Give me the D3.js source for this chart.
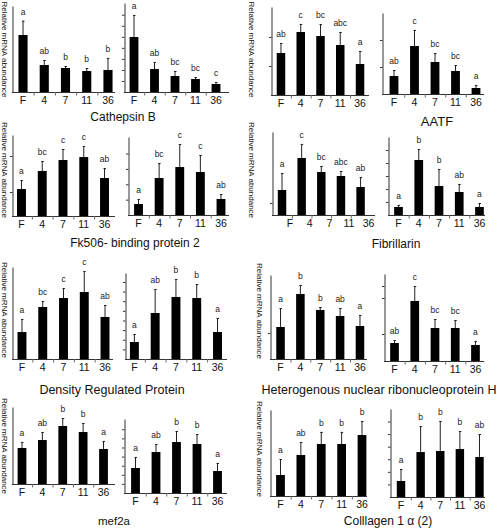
<!DOCTYPE html>
<html>
<head>
<meta charset="utf-8">
<script src="https://cdn.jsdelivr.net/npm/d3@7"></script>
<style>
  html, body { margin: 0; padding: 0; background: #fff; }
  svg { display: block; font-family: "Liberation Sans", Arial, sans-serif; }
</style>
</head>
<body>
<svg id="chart" width="497" height="530"></svg>
<script>
// ---------- DATA (relative mRNA abundance, % of each panel's axis height) ----------
const categories = ["F", "4", "7", "11", "36"];

const cathepsinB_left      = [66.3, 31.4, 27.9, 24.4, 25.6];
const cathepsinB_left_err  = [16.6, 5.8, 2.3, 3.5, 14.0];
const cathepsinB_left_sig  = ["a", "ab", "b", "b", "b"];
const cathepsinB_right     = [61.8, 25.8, 18.0, 14.6, 9.0];
const cathepsinB_right_err = [24.7, 7.9, 5.6, 2.2, 2.2];
const cathepsinB_right_sig = ["a", "ab", "bc", "bc", "c"];

const aatf_left      = [47.7, 71.6, 67.0, 56.8, 35.2];
const aatf_left_err  = [11.4, 9.1, 13.6, 14.8, 14.8];
const aatf_left_sig  = ["ab", "c", "bc", "abc", "a"];
const aatf_right     = [22.2, 59.3, 39.5, 28.4, 7.4];
const aatf_right_err = [7.4, 19.8, 11.1, 7.4, 3.7];
const aatf_right_sig = ["ab", "c", "bc", "bc", "a"];

const fk506_left      = [33.3, 55.6, 69.1, 72.8, 46.9];
const fk506_left_err  = [11.1, 12.3, 13.6, 13.6, 12.3];
const fk506_left_sig  = ["a", "bc", "c", "c", "ab"];
const fk506_right     = [14.1, 47.4, 61.5, 55.1, 20.5];
const fk506_right_err = [6.4, 19.2, 29.5, 21.8, 6.4];
const fk506_right_sig = ["a", "bc", "c", "c", "ab"];

const fibrillarin_left      = [30.1, 68.7, 51.8, 47.0, 33.7];
const fibrillarin_left_err  = [20.5, 16.9, 7.2, 6.0, 12.0];
const fibrillarin_left_sig  = ["a", "c", "bc", "abc", "ab"];
const fibrillarin_right     = [10.3, 70.5, 37.2, 29.5, 10.3];
const fibrillarin_right_err = [2.6, 14.1, 21.8, 10.3, 5.1];
const fibrillarin_right_sig = ["a", "b", "b", "ab", "a"];

const densityReg_left      = [29.3, 56.5, 66.3, 72.8, 45.7];
const densityReg_left_err  = [14.1, 6.5, 10.9, 22.8, 13.0];
const densityReg_left_sig  = ["a", "bc", "c", "c", "ab"];
const densityReg_right     = [19.8, 53.5, 72.1, 70.9, 31.4];
const densityReg_right_err = [9.3, 27.9, 20.9, 16.3, 16.3];
const densityReg_right_sig = ["a", "ab", "b", "b", "a"];

const hnrnpH_left      = [38.1, 77.4, 58.3, 51.2, 39.3];
const hnrnpH_left_err  = [22.6, 10.7, 3.6, 9.5, 13.1];
const hnrnpH_left_sig  = ["a", "b", "b", "ab", "a"];
const hnrnpH_right     = [20.7, 69.0, 37.9, 37.9, 18.4];
const hnrnpH_right_err = [3.4, 17.2, 10.3, 9.2, 4.6];
const hnrnpH_right_sig = ["ab", "c", "bc", "bc", "a"];

const mef2a_left      = [46.8, 57.1, 75.3, 67.5, 45.5];
const mef2a_left_err  = [7.8, 10.4, 10.4, 11.7, 10.4];
const mef2a_left_sig  = ["a", "ab", "b", "b", "a"];
const mef2a_right     = [33.8, 55.4, 68.9, 66.2, 29.7];
const mef2a_right_err = [14.9, 10.8, 14.9, 13.5, 10.8];
const mef2a_right_sig = ["a", "ab", "b", "b", "a"];

const collagen_left      = [24.4, 47.7, 60.5, 60.5, 70.9];
const collagen_left_err  = [18.6, 15.1, 14.0, 14.0, 16.3];
const collagen_left_sig  = ["a", "ab", "b", "b", "b"];
const collagen_right     = [18.2, 51.1, 52.3, 54.5, 45.5];
const collagen_right_err = [13.6, 29.5, 34.1, 20.5, 26.1];
const collagen_right_sig = ["a", "b", "b", "b", "ab"];

// y-axis minor tick values (same % units)
const ticks_none   = [];
const ticks_cathB_R = [12.4, 24.8, 37.2, 49.6, 62.0, 74.4, 86.8];
const ticks_aatf_L  = [33, 66];
const ticks_aatf_R  = [33.3, 66.7];
const ticks_fk_L    = [29.6, 74.1];
const ticks_fk_R    = [19.7, 39.4, 59.1, 78.8];
const ticks_fib_L   = [14.5];
const ticks_fib_R   = [16.7, 33.3, 50, 66.7, 83.3];
const ticks_drp_R   = [11.2, 22.4, 33.6, 44.8, 56, 67.2, 78.4, 89.6];
const ticks_het_L   = [31];
const ticks_het_R   = [31, 72.4, 86.2];
const ticks_mef_R   = [12.3, 24.6, 36.9, 49.2, 61.5, 73.8, 86.1];
const ticks_col_R   = [14.3, 28.6, 42.9, 57.2, 71.5, 85.8];

const yLabel = "Relative mRNA abundance";

// ---------- LAYOUT ----------
// frame: axisX, band start, band end, baseline end, yTop, yBase
const subpanels = [
  { v: cathepsinB_left,  e: cathepsinB_left_err,  s: cathepsinB_left_sig,  t: ticks_none,    f: [12, 12.4, 118.6, 115, 6, 92] },
  { v: cathepsinB_right, e: cathepsinB_right_err, s: cathepsinB_right_sig, t: ticks_cathB_R, f: [124, 123.75, 226.25, 229, 3, 92] },
  { v: aatf_left,        e: aatf_left_err,        s: aatf_left_sig,        t: ticks_aatf_L,  f: [271, 271.1, 369.9, 369, 7, 95] },
  { v: aatf_right,       e: aatf_right_err,       s: aatf_right_sig,       t: ticks_aatf_R,  f: [382, 383.75, 486.25, 484, 13, 94] },
  { v: fk506_left,       e: fk506_left_err,       s: fk506_left_sig,       t: ticks_fk_L,    f: [12, 11.1, 114.9, 115, 135, 216] },
  { v: fk506_right,      e: fk506_right_err,      s: fk506_right_sig,      t: ticks_fk_R,    f: [128, 128.2, 231.3, 229, 137, 215] },
  { v: fibrillarin_left, e: fibrillarin_left_err, s: fibrillarin_left_sig, t: ticks_fib_L,   f: [272, 272.2, 370.4, 375, 132, 215], shift: 8 },
  { v: fibrillarin_right,e: fibrillarin_right_err,s: fibrillarin_right_sig,t: ticks_fib_R,   f: [388, 388.4, 489.6, 485, 137, 215] },
  { v: densityReg_left,  e: densityReg_left_err,  s: densityReg_left_sig,  t: ticks_none,    f: [12, 11.6, 115.4, 113, 267, 359] },
  { v: densityReg_right, e: densityReg_right_err, s: densityReg_right_sig, t: ticks_drp_R,   f: [125, 124, 227.9, 227, 273, 359] },
  { v: hnrnpH_left,      e: hnrnpH_left_err,      s: hnrnpH_left_sig,      t: ticks_het_L,   f: [270, 270.6, 369.9, 367, 275, 359] },
  { v: hnrnpH_right,     e: hnrnpH_right_err,     s: hnrnpH_right_sig,     t: ticks_het_R,   f: [384, 384.4, 485.6, 484, 274, 361] },
  { v: mef2a_left,       e: mef2a_left_err,       s: mef2a_left_sig,       t: ticks_none,    f: [12, 11.8, 113.7, 115, 407, 484] },
  { v: mef2a_right,      e: mef2a_right_err,      s: mef2a_right_sig,      t: ticks_mef_R,   f: [124, 125.25, 227.75, 227, 419, 493] },
  { v: collagen_left,    e: collagen_left_err,    s: collagen_left_sig,    t: ticks_none,    f: [270, 270.3, 372.2, 367, 410, 496] },
  { v: collagen_right,   e: collagen_right_err,   s: collagen_right_sig,   t: ticks_col_R,   f: [390, 391.2, 489.3, 485, 409, 497] }
];

const titles = [
  { text: "Cathepsin B", x: 123, y: 121, size: 12 },
  { text: "AATF", x: 437, y: 126, size: 13 },
  { text: "Fk506- binding protein 2", x: 135, y: 247, size: 12 },
  { text: "Fibrillarin", x: 396, y: 248, size: 12 },
  { text: "Density Regulated Protein", x: 112, y: 394, size: 12.5 },
  { text: "Heterogenous nuclear ribonucleoprotein H", x: 379, y: 394, size: 12.5 },
  { text: "mef2a", x: 114, y: 525, size: 11.5 },
  { text: "Colllagen 1 \u03B1 (2)", x: 388, y: 525, size: 12 }
];

const yLabels = [
  { x: 1.5, y: 49.5 }, { x: 248.5, y: 49.5 },
  { x: 1.5, y: 170 }, { x: 248.5, y: 170 },
  { x: 1.5, y: 310 }, { x: 257, y: 311 },
  { x: 1.5, y: 446 }, { x: 257, y: 449 }
];

// ---------- DRAW ----------
const svg = d3.select("#chart");
const ink = "#111";
const axisColor = "#333";

subpanels.forEach(p => {
  const [ax, b0, b1, bEnd, yTop, yBase] = p.f;
  const pad = 0.57;
  const x = d3.scaleBand().domain(categories).range([b0, b1])
    .paddingInner(pad).paddingOuter(pad / 2);
  const y = d3.scaleLinear().domain([0, 100]).range([yBase, yTop]);
  const g = svg.append("g");
  const rows = categories.map((c, i) => ({ c, v: p.v[i], e: p.e[i], s: p.s[i] }));

  // bars
  g.selectAll("rect.bar").data(rows).join("rect")
    .attr("class", "bar")
    .attr("x", d => x(d.c))
    .attr("width", x.bandwidth())
    .attr("y", d => y(d.v))
    .attr("height", d => y(0) - y(d.v))
    .attr("fill", "#000");

  // error bars (upper only)
  const cx = d => x(d.c) + x.bandwidth() / 2;
  g.selectAll("line.err").data(rows).join("line")
    .attr("class", "err")
    .attr("x1", cx).attr("x2", cx)
    .attr("y1", d => y(d.v)).attr("y2", d => y(d.v + d.e))
    .attr("stroke", "#222").attr("stroke-width", 1);
  g.selectAll("line.cap").data(rows).join("line")
    .attr("class", "cap")
    .attr("x1", d => cx(d) - 1).attr("x2", d => cx(d) + 1.5)
    .attr("y1", d => y(d.v + d.e) + 0.5).attr("y2", d => y(d.v + d.e) + 0.5)
    .attr("stroke", "#222").attr("stroke-width", 1);

  // significance letters
  g.selectAll("text.sig").data(rows).join("text")
    .attr("class", "sig")
    .attr("x", cx)
    .attr("y", d => y(d.v + d.e) - 6)
    .attr("text-anchor", "middle")
    .attr("font-size", 8.5)
    .attr("fill", "#222")
    .text(d => d.s);

  // y axis
  const yAxis = d3.axisLeft(y).tickValues(p.t).tickSize(2.5).tickFormat("").tickSizeOuter(0);
  const ya = g.append("g").attr("transform", `translate(${ax + 0.5},0)`).call(yAxis);
  ya.select(".domain").attr("stroke", axisColor);
  ya.selectAll(".tick line").attr("stroke", axisColor);

  // baseline
  g.append("line")
    .attr("x1", ax).attr("x2", bEnd)
    .attr("y1", yBase + 0.5).attr("y2", yBase + 0.5)
    .attr("stroke", axisColor).attr("stroke-width", 1);

  // category separator ticks
  const gap = (x.step() - x.bandwidth()) / 2;
  g.selectAll("line.sep").data(categories.slice(1)).join("line")
    .attr("class", "sep")
    .attr("x1", c => x(c) - gap + 0.5).attr("x2", c => x(c) - gap + 0.5)
    .attr("y1", yBase).attr("y2", yBase + 3.5)
    .attr("stroke", "#666").attr("stroke-width", 1);

  // category labels
  const shift = p.shift || 0;
  g.selectAll("text.cat").data(categories).join("text")
    .attr("class", "cat")
    .attr("x", c => x(c) + x.bandwidth() / 2 + shift)
    .attr("y", yBase + 12)
    .attr("text-anchor", "middle")
    .attr("font-size", 10.5)
    .attr("fill", ink)
    .text(c => c);
});

// gene titles
svg.selectAll("text.title").data(titles).join("text")
  .attr("class", "title")
  .attr("x", d => d.x).attr("y", d => d.y)
  .attr("text-anchor", "middle")
  .attr("font-size", d => d.size)
  .attr("fill", ink)
  .text(d => d.text);

// y-axis labels (rotated, reading top-to-bottom)
svg.selectAll("text.ylab").data(yLabels).join("text")
  .attr("class", "ylab")
  .attr("transform", d => `translate(${d.x},${d.y}) rotate(90)`)
  .attr("text-anchor", "middle")
  .attr("font-size", 8)
  .attr("fill", ink)
  .text(yLabel);
</script>
</body>
</html>
